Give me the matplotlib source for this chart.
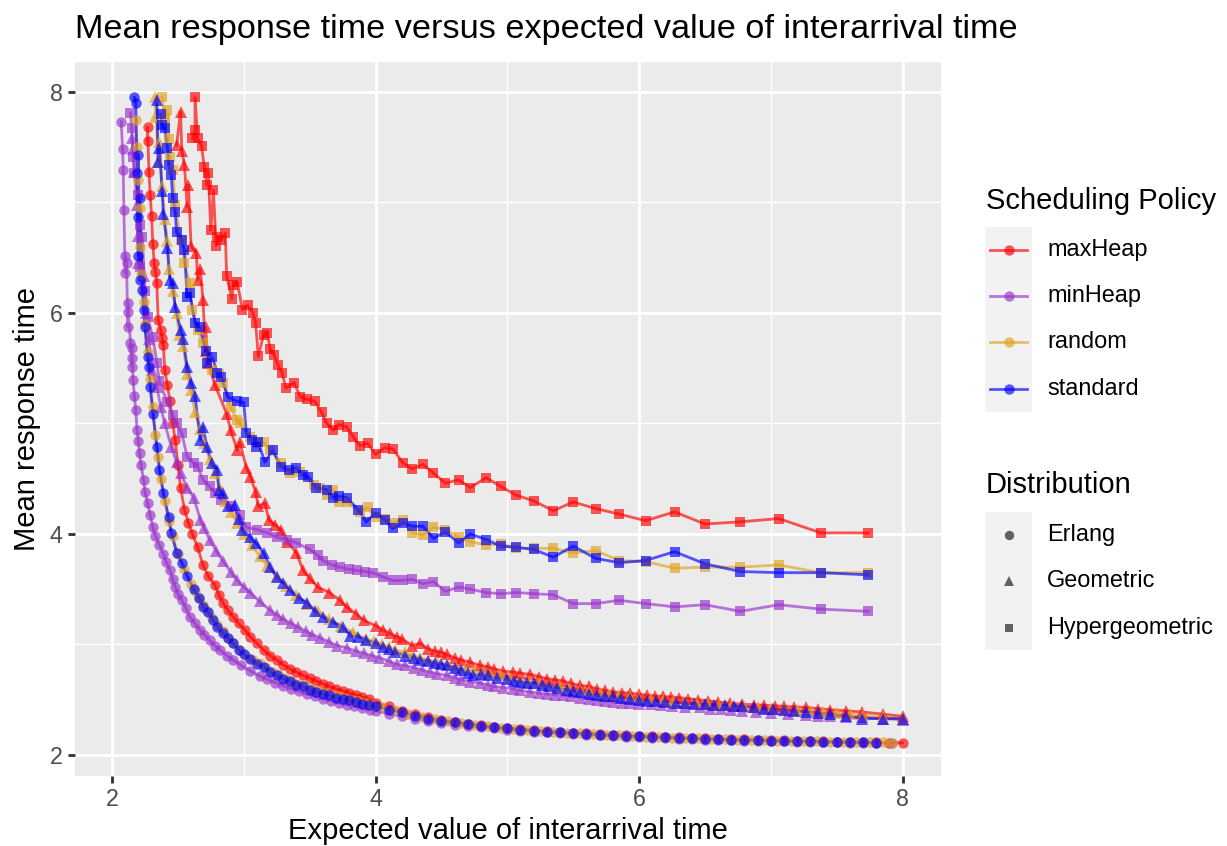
import matplotlib
matplotlib.use("Agg")
import matplotlib.pyplot as plt
from matplotlib.lines import Line2D
from matplotlib.patches import Rectangle

# ---------------- data ----------------
policies = ["maxHeap", "minHeap", "random", "standard"]
distributions = ["Erlang", "Geometric", "Hypergeometric"]

maxheap_erlang = [
    (2.27, 7.68), (2.27, 7.56), (2.28, 7.28), (2.29, 7.07), (2.30, 6.88), (2.31, 6.62),
    (2.32, 6.45), (2.33, 6.37), (2.34, 6.27), (2.35, 5.94), (2.37, 5.85), (2.38, 5.77),
    (2.39, 5.71), (2.40, 5.48), (2.42, 5.35), (2.44, 5.20), (2.46, 5.00), (2.48, 4.85),
    (2.50, 4.62), (2.52, 4.42), (2.55, 4.22), (2.58, 4.10), (2.61, 4.00), (2.65, 3.88),
    (2.69, 3.72), (2.73, 3.62), (2.78, 3.54), (2.81, 3.45), (2.84, 3.38), (2.88, 3.31),
    (2.92, 3.25), (2.96, 3.19), (3.01, 3.13), (3.05, 3.07), (3.10, 3.01), (3.15, 2.95),
    (3.20, 2.90), (3.25, 2.86), (3.30, 2.815), (3.35, 2.78), (3.40, 2.75), (3.45, 2.72),
    (3.50, 2.695), (3.55, 2.67), (3.60, 2.645), (3.65, 2.62), (3.70, 2.60), (3.75, 2.58),
    (3.80, 2.56), (3.85, 2.545), (3.90, 2.525), (3.95, 2.505), (4.00, 2.475), (4.10, 2.44),
    (4.20, 2.40), (4.30, 2.37), (4.40, 2.345), (4.50, 2.32), (4.60, 2.30), (4.70, 2.285),
    (4.80, 2.27), (4.90, 2.255), (5.00, 2.245), (5.10, 2.235), (5.20, 2.225), (5.30, 2.218),
    (5.40, 2.21), (5.50, 2.203), (5.60, 2.197), (5.70, 2.19), (5.80, 2.185), (5.90, 2.18),
    (6.00, 2.175), (6.10, 2.17), (6.20, 2.165), (6.30, 2.16), (6.40, 2.155), (6.50, 2.151),
    (6.60, 2.147), (6.70, 2.144), (6.80, 2.141), (6.90, 2.138), (7.00, 2.135), (7.10, 2.132),
    (7.20, 2.129), (7.30, 2.126), (7.40, 2.123), (7.50, 2.12), (7.60, 2.118), (7.70, 2.116),
    (7.80, 2.114), (7.90, 2.112), (8.00, 2.11),
]
minheap_erlang = [
    (2.07, 7.73), (2.08, 7.48), (2.085, 7.29), (2.09, 6.93), (2.10, 6.52), (2.11, 6.45),
    (2.10, 6.36), (2.12, 6.09), (2.12, 6.01), (2.12, 5.87), (2.14, 5.73), (2.15, 5.68),
    (2.15, 5.59), (2.15, 5.51), (2.16, 5.39), (2.17, 5.25), (2.18, 5.12), (2.19, 4.94),
    (2.20, 4.84), (2.21, 4.73), (2.22, 4.62), (2.24, 4.49), (2.25, 4.38), (2.27, 4.28),
    (2.29, 4.17), (2.31, 4.06), (2.33, 3.98), (2.36, 3.90), (2.39, 3.82), (2.41, 3.75),
    (2.44, 3.67), (2.46, 3.59), (2.48, 3.52), (2.50, 3.46), (2.53, 3.40), (2.56, 3.33),
    (2.59, 3.25), (2.63, 3.19), (2.67, 3.13), (2.70, 3.09), (2.74, 3.04), (2.78, 2.99),
    (2.82, 2.95), (2.87, 2.90), (2.92, 2.86), (2.98, 2.81), (3.05, 2.76), (3.12, 2.715),
    (3.18, 2.685), (3.24, 2.655), (3.30, 2.625), (3.36, 2.60), (3.42, 2.575), (3.48, 2.55),
    (3.54, 2.53), (3.60, 2.51), (3.66, 2.49), (3.72, 2.47), (3.78, 2.455), (3.84, 2.44),
    (3.90, 2.425), (3.96, 2.41), (4.00, 2.40), (4.10, 2.375), (4.20, 2.35), (4.30, 2.33),
    (4.40, 2.31), (4.50, 2.29), (4.60, 2.275), (4.70, 2.26), (4.80, 2.25), (4.90, 2.24),
    (5.00, 2.23), (5.10, 2.22), (5.20, 2.21), (5.30, 2.205), (5.40, 2.197), (5.50, 2.19),
    (5.60, 2.183), (5.70, 2.177), (5.80, 2.171), (5.90, 2.165), (6.00, 2.16), (6.10, 2.156),
    (6.20, 2.152), (6.30, 2.148), (6.40, 2.144), (6.50, 2.14), (6.60, 2.137), (6.70, 2.134),
    (6.80, 2.131), (6.90, 2.128), (7.00, 2.125), (7.10, 2.123), (7.20, 2.121), (7.30, 2.119),
    (7.40, 2.117), (7.50, 2.115), (7.60, 2.113), (7.70, 2.111), (7.80, 2.109), (7.92, 2.107),
]
random_erlang = [
    (2.18, 7.75), (2.19, 7.50), (2.20, 7.20), (2.21, 6.95), (2.21, 6.60), (2.22, 6.35),
    (2.24, 6.10), (2.25, 5.90), (2.27, 5.65), (2.29, 5.40), (2.31, 5.15), (2.33, 4.90),
    (2.35, 4.70), (2.37, 4.50), (2.40, 4.30), (2.43, 4.12), (2.46, 3.98), (2.50, 3.82),
    (2.55, 3.68), (2.60, 3.55), (2.63, 3.48), (2.66, 3.42), (2.69, 3.36), (2.72, 3.30),
    (2.76, 3.24), (2.80, 3.18), (2.84, 3.12), (2.88, 3.06), (2.92, 3.01), (2.97, 2.95),
    (3.02, 2.90), (3.07, 2.86), (3.12, 2.83), (3.17, 2.79), (3.22, 2.75), (3.27, 2.72),
    (3.32, 2.69), (3.37, 2.665), (3.42, 2.64), (3.47, 2.62), (3.52, 2.60), (3.57, 2.58),
    (3.62, 2.56), (3.67, 2.545), (3.72, 2.53), (3.77, 2.515), (3.82, 2.50), (3.87, 2.485),
    (3.92, 2.47), (3.97, 2.455), (4.05, 2.435), (4.15, 2.405), (4.25, 2.375), (4.35, 2.345),
    (4.45, 2.325), (4.55, 2.305), (4.65, 2.29), (4.75, 2.275), (4.85, 2.26), (4.95, 2.248),
    (5.05, 2.237), (5.15, 2.227), (5.25, 2.218), (5.35, 2.21), (5.45, 2.203), (5.55, 2.196),
    (5.65, 2.19), (5.75, 2.184), (5.85, 2.178), (5.95, 2.172), (6.05, 2.167), (6.15, 2.162),
    (6.25, 2.158), (6.35, 2.154), (6.45, 2.15), (6.55, 2.146), (6.65, 2.143), (6.75, 2.14),
    (6.85, 2.137), (6.95, 2.134), (7.05, 2.131), (7.15, 2.128), (7.25, 2.126), (7.35, 2.124),
    (7.45, 2.122), (7.55, 2.12), (7.65, 2.118), (7.75, 2.116), (7.85, 2.114), (7.92, 2.113),
]
standard_erlang = [
    (2.17, 7.95), (2.18, 7.90), (2.20, 7.43), (2.19, 7.27), (2.21, 7.04), (2.20, 6.87),
    (2.20, 6.52), (2.21, 6.30), (2.23, 6.21), (2.24, 6.03), (2.25, 5.87), (2.27, 5.60),
    (2.28, 5.51), (2.29, 5.33), (2.31, 5.09), (2.34, 4.79), (2.36, 4.58), (2.39, 4.37),
    (2.43, 4.15), (2.45, 4.01), (2.49, 3.83), (2.53, 3.74), (2.57, 3.62), (2.62, 3.50),
    (2.66, 3.42), (2.69, 3.34), (2.73, 3.29), (2.77, 3.22), (2.80, 3.16), (2.84, 3.10),
    (2.88, 3.06), (2.92, 3.01), (2.96, 2.95), (3.00, 2.91), (3.05, 2.87), (3.10, 2.82),
    (3.15, 2.80), (3.20, 2.75), (3.25, 2.72), (3.30, 2.69), (3.35, 2.67), (3.40, 2.63),
    (3.45, 2.62), (3.50, 2.59), (3.55, 2.57), (3.60, 2.555), (3.65, 2.54), (3.70, 2.52),
    (3.75, 2.51), (3.80, 2.495), (3.85, 2.48), (3.90, 2.465), (3.95, 2.455), (4.00, 2.44),
    (4.10, 2.41), (4.20, 2.385), (4.30, 2.355), (4.40, 2.33), (4.50, 2.31), (4.60, 2.295),
    (4.70, 2.28), (4.80, 2.265), (4.90, 2.25), (5.00, 2.24), (5.10, 2.23), (5.20, 2.22),
    (5.30, 2.212), (5.40, 2.205), (5.50, 2.198), (5.60, 2.19), (5.70, 2.184), (5.80, 2.178),
    (5.90, 2.173), (6.00, 2.168), (6.10, 2.163), (6.20, 2.159), (6.30, 2.155), (6.40, 2.151),
    (6.50, 2.147), (6.60, 2.144), (6.70, 2.14), (6.80, 2.137), (6.90, 2.134), (7.00, 2.131),
    (7.10, 2.128), (7.20, 2.125), (7.30, 2.123), (7.40, 2.121), (7.50, 2.119), (7.60, 2.117),
    (7.70, 2.115), (7.80, 2.113),
]

maxheap_geometric = [
    (2.52, 7.82), (2.49, 7.52), (2.53, 7.47), (2.55, 7.34), (2.58, 7.16), (2.57, 6.96),
    (2.60, 6.61), (2.64, 6.54), (2.67, 6.40), (2.65, 6.30), (2.69, 6.12), (2.71, 5.87),
    (2.71, 5.66), (2.73, 5.55), (2.78, 5.35), (2.87, 5.09), (2.90, 4.94), (2.97, 4.83),
    (2.95, 4.76), (3.02, 4.60), (3.05, 4.52), (3.09, 4.38), (3.11, 4.25), (3.16, 4.28),
    (3.19, 4.13), (3.24, 4.08), (3.28, 4.04), (3.33, 3.93), (3.40, 3.83), (3.45, 3.67),
    (3.50, 3.60), (3.56, 3.52), (3.65, 3.47), (3.73, 3.40), (3.78, 3.34), (3.85, 3.28),
    (3.91, 3.22), (4.00, 3.17), (4.06, 3.13), (4.11, 3.10), (4.16, 3.07), (4.20, 3.05),
    (4.28, 2.99), (4.34, 3.01), (4.40, 2.96), (4.45, 2.94), (4.50, 2.93), (4.54, 2.91),
    (4.60, 2.88), (4.65, 2.86), (4.72, 2.84), (4.79, 2.81), (4.85, 2.80), (4.90, 2.78),
    (4.97, 2.76), (5.04, 2.75), (5.10, 2.74), (5.17, 2.73), (5.24, 2.71), (5.30, 2.69),
    (5.36, 2.68), (5.42, 2.67), (5.48, 2.65), (5.55, 2.63), (5.62, 2.62), (5.68, 2.60),
    (5.74, 2.585), (5.80, 2.57), (5.87, 2.565), (5.93, 2.56), (6.00, 2.55), (6.06, 2.54),
    (6.12, 2.535), (6.18, 2.53), (6.24, 2.525), (6.30, 2.52), (6.37, 2.51), (6.45, 2.50),
    (6.52, 2.49), (6.60, 2.48), (6.69, 2.47), (6.78, 2.46), (6.87, 2.455), (6.95, 2.45),
    (7.03, 2.445), (7.10, 2.44), (7.18, 2.435), (7.27, 2.43), (7.36, 2.42), (7.45, 2.41),
    (7.57, 2.40), (7.69, 2.39), (7.85, 2.37), (8.00, 2.35),
]
minheap_geometric = [
    (2.15, 7.58), (2.16, 7.48), (2.17, 7.28), (2.19, 6.98), (2.20, 6.70), (2.20, 6.45),
    (2.24, 6.33), (2.26, 6.00), (2.28, 5.76), (2.30, 5.48), (2.34, 5.33), (2.37, 5.15),
    (2.40, 5.00), (2.45, 4.79), (2.49, 4.65), (2.52, 4.55), (2.57, 4.42), (2.62, 4.33),
    (2.67, 4.13), (2.70, 4.05), (2.74, 3.95), (2.79, 3.85), (2.84, 3.76), (2.90, 3.66),
    (2.95, 3.58), (3.00, 3.52), (3.05, 3.47), (3.12, 3.39), (3.20, 3.31), (3.25, 3.27),
    (3.30, 3.23), (3.36, 3.19), (3.41, 3.16), (3.47, 3.12), (3.52, 3.09), (3.58, 3.06),
    (3.65, 3.02), (3.71, 2.99), (3.78, 2.97), (3.85, 2.94), (3.91, 2.92), (3.97, 2.90),
    (4.03, 2.88), (4.10, 2.85), (4.16, 2.82), (4.22, 2.81), (4.29, 2.79), (4.35, 2.77),
    (4.41, 2.75), (4.47, 2.735), (4.54, 2.72), (4.60, 2.70), (4.65, 2.68), (4.72, 2.665),
    (4.79, 2.65), (4.85, 2.635), (4.90, 2.62), (4.97, 2.61), (5.04, 2.60), (5.10, 2.585),
    (5.17, 2.57), (5.24, 2.56), (5.30, 2.55), (5.36, 2.545), (5.42, 2.54), (5.48, 2.53),
    (5.55, 2.52), (5.62, 2.51), (5.68, 2.50), (5.74, 2.49), (5.80, 2.48), (5.87, 2.475),
    (5.93, 2.47), (6.00, 2.465), (6.09, 2.46), (6.17, 2.45), (6.25, 2.445), (6.35, 2.435),
    (6.46, 2.43), (6.54, 2.42), (6.62, 2.415), (6.70, 2.41), (6.78, 2.40), (6.89, 2.39),
    (7.00, 2.38), (7.13, 2.37), (7.27, 2.36), (7.36, 2.355), (7.45, 2.35), (7.57, 2.345),
    (7.69, 2.34), (7.85, 2.33), (8.00, 2.32),
]
random_geometric = [
    (2.33, 7.95), (2.33, 7.77), (2.35, 7.37), (2.36, 7.55), (2.38, 7.15), (2.40, 6.85),
    (2.42, 6.65), (2.43, 6.40), (2.46, 6.20), (2.49, 6.00), (2.51, 5.80), (2.54, 5.70),
    (2.57, 5.45), (2.60, 5.30), (2.63, 5.10), (2.67, 4.95), (2.70, 4.82), (2.74, 4.68),
    (2.78, 4.55), (2.82, 4.42), (2.86, 4.30), (2.90, 4.20), (2.95, 4.10), (3.00, 4.00),
    (3.06, 3.90), (3.12, 3.80), (3.18, 3.71), (3.25, 3.62), (3.32, 3.53), (3.40, 3.45),
    (3.48, 3.37), (3.56, 3.30), (3.65, 3.23), (3.74, 3.17), (3.83, 3.11), (3.93, 3.05),
    (3.99, 3.03), (4.05, 3.00), (4.10, 2.98), (4.15, 2.95), (4.22, 2.93), (4.28, 2.90),
    (4.34, 2.88), (4.40, 2.86), (4.47, 2.84), (4.54, 2.82), (4.61, 2.80), (4.68, 2.78),
    (4.75, 2.765), (4.82, 2.75), (4.88, 2.735), (4.95, 2.72), (5.02, 2.70), (5.10, 2.68),
    (5.17, 2.665), (5.25, 2.65), (5.32, 2.635), (5.40, 2.62), (5.47, 2.605), (5.55, 2.59),
    (5.62, 2.575), (5.70, 2.56), (5.77, 2.55), (5.85, 2.54), (5.93, 2.53), (6.00, 2.52),
    (6.09, 2.51), (6.18, 2.50), (6.26, 2.49), (6.35, 2.48), (6.44, 2.47), (6.52, 2.465),
    (6.61, 2.455), (6.70, 2.45), (6.80, 2.44), (6.90, 2.43), (7.00, 2.425), (7.10, 2.42),
    (7.20, 2.41), (7.30, 2.40), (7.40, 2.39), (7.50, 2.38), (7.60, 2.37), (7.70, 2.36),
    (7.85, 2.35), (8.00, 2.33),
]
standard_geometric = [
    (2.34, 7.93), (2.36, 7.49), (2.35, 7.37), (2.38, 7.10), (2.39, 6.90), (2.42, 6.59),
    (2.44, 6.30), (2.46, 6.27), (2.48, 6.05), (2.52, 5.85), (2.54, 5.76), (2.57, 5.51),
    (2.60, 5.37), (2.63, 5.25), (2.67, 4.85), (2.69, 4.97), (2.72, 4.79), (2.76, 4.64),
    (2.80, 4.58), (2.81, 4.40), (2.84, 4.37), (2.88, 4.25), (2.93, 4.26), (2.96, 4.14),
    (2.99, 4.04), (3.05, 3.97), (3.09, 3.92), (3.15, 3.83), (3.20, 3.70), (3.25, 3.61),
    (3.30, 3.56), (3.35, 3.49), (3.42, 3.42), (3.48, 3.38), (3.54, 3.30), (3.60, 3.25),
    (3.68, 3.20), (3.75, 3.16), (3.81, 3.08), (3.87, 3.07), (3.93, 3.04), (4.00, 3.01),
    (4.06, 2.98), (4.10, 2.96), (4.15, 2.93), (4.22, 2.90), (4.29, 2.88), (4.34, 2.86),
    (4.40, 2.85), (4.45, 2.83), (4.50, 2.82), (4.54, 2.81), (4.60, 2.79), (4.65, 2.77),
    (4.70, 2.74), (4.74, 2.72), (4.80, 2.73), (4.85, 2.72), (4.92, 2.70), (5.00, 2.69),
    (5.05, 2.67), (5.10, 2.66), (5.15, 2.655), (5.20, 2.65), (5.26, 2.635), (5.32, 2.62),
    (5.38, 2.605), (5.45, 2.59), (5.50, 2.58), (5.55, 2.57), (5.62, 2.555), (5.68, 2.54),
    (5.74, 2.535), (5.80, 2.53), (5.86, 2.52), (5.93, 2.51), (6.00, 2.50), (6.06, 2.49),
    (6.13, 2.485), (6.20, 2.48), (6.28, 2.475), (6.35, 2.47), (6.42, 2.465), (6.50, 2.46),
    (6.57, 2.455), (6.65, 2.45), (6.72, 2.445), (6.78, 2.44), (6.87, 2.43), (6.95, 2.42),
    (7.02, 2.415), (7.10, 2.41), (7.18, 2.40), (7.27, 2.39), (7.36, 2.38), (7.45, 2.37),
    (7.57, 2.35), (7.69, 2.33), (7.85, 2.33), (8.00, 2.33),
]

maxheap_hyper = [
    (2.63, 7.95), (2.61, 7.58), (2.63, 7.66), (2.65, 7.58), (2.68, 7.51), (2.70, 7.32),
    (2.72, 7.16), (2.73, 7.27), (2.75, 6.75), (2.77, 7.11), (2.79, 6.61), (2.80, 6.69),
    (2.83, 6.66), (2.86, 6.72), (2.87, 6.33), (2.91, 6.13), (2.92, 6.25), (2.95, 6.28),
    (2.99, 6.03), (3.03, 6.07), (3.07, 6.00), (3.09, 5.91), (3.11, 5.61), (3.15, 5.80),
    (3.18, 5.82), (3.20, 5.67), (3.23, 5.62), (3.26, 5.53), (3.29, 5.46), (3.32, 5.32),
    (3.38, 5.37), (3.43, 5.24), (3.48, 5.22), (3.54, 5.20), (3.59, 5.10), (3.63, 5.00),
    (3.68, 4.94), (3.72, 4.99), (3.78, 4.97), (3.83, 4.88), (3.88, 4.80), (3.94, 4.82),
    (4.00, 4.72), (4.07, 4.78), (4.13, 4.77), (4.21, 4.64), (4.28, 4.59), (4.36, 4.63),
    (4.44, 4.55), (4.53, 4.46), (4.63, 4.49), (4.72, 4.42), (4.84, 4.51), (4.95, 4.43),
    (5.07, 4.35), (5.20, 4.30), (5.35, 4.21), (5.50, 4.29), (5.67, 4.23), (5.85, 4.18),
    (6.05, 4.12), (6.27, 4.20), (6.50, 4.09), (6.77, 4.11), (7.06, 4.14), (7.38, 4.01),
    (7.74, 4.01),
]
minheap_hyper = [
    (2.14, 7.81), (2.15, 7.67), (2.16, 7.41), (2.17, 7.27), (2.20, 7.07), (2.21, 6.80),
    (2.23, 6.69), (2.21, 6.42), (2.25, 6.20), (2.27, 5.96), (2.31, 5.78), (2.34, 5.55),
    (2.36, 5.38), (2.42, 5.19), (2.46, 5.08), (2.49, 5.00), (2.53, 4.91), (2.57, 4.70),
    (2.62, 4.64), (2.65, 4.61), (2.69, 4.49), (2.74, 4.43), (2.78, 4.37), (2.83, 4.31),
    (2.90, 4.25), (2.97, 4.17), (3.02, 4.06), (3.10, 4.04), (3.18, 4.01), (3.25, 3.97),
    (3.33, 3.95), (3.40, 3.92), (3.50, 3.86), (3.56, 3.81), (3.60, 3.76), (3.67, 3.72),
    (3.73, 3.70), (3.80, 3.68), (3.86, 3.67), (3.92, 3.66), (3.98, 3.65), (4.06, 3.61),
    (4.13, 3.58), (4.21, 3.58), (4.28, 3.59), (4.36, 3.55), (4.44, 3.57), (4.53, 3.48),
    (4.63, 3.52), (4.72, 3.50), (4.84, 3.47), (4.95, 3.46), (5.07, 3.47), (5.20, 3.46),
    (5.35, 3.45), (5.50, 3.37), (5.67, 3.37), (5.85, 3.40), (6.05, 3.37), (6.27, 3.34),
    (6.50, 3.36), (6.77, 3.30), (7.06, 3.36), (7.38, 3.32), (7.74, 3.30),
]
random_hyper = [
    (2.38, 7.95), (2.40, 7.76), (2.42, 7.84), (2.43, 7.57), (2.44, 7.41), (2.46, 7.29),
    (2.48, 6.98), (2.52, 6.66), (2.55, 6.45), (2.59, 6.27), (2.61, 6.03), (2.65, 5.85),
    (2.69, 5.73), (2.73, 5.60), (2.76, 5.48), (2.81, 5.45), (2.84, 5.37), (2.90, 5.15),
    (2.95, 5.03), (2.97, 5.00), (3.05, 4.88), (3.10, 4.82), (3.15, 4.83), (3.20, 4.76),
    (3.28, 4.64), (3.35, 4.55), (3.43, 4.56), (3.53, 4.44), (3.58, 4.42), (3.63, 4.35),
    (3.68, 4.40), (3.72, 4.29), (3.78, 4.29), (3.88, 4.20), (3.94, 4.24), (4.00, 4.15),
    (4.07, 4.14), (4.13, 4.10), (4.21, 4.13), (4.28, 4.01), (4.36, 3.99), (4.44, 4.06),
    (4.53, 4.04), (4.63, 3.97), (4.72, 3.93), (4.84, 3.90), (4.95, 3.91), (5.07, 3.87),
    (5.20, 3.87), (5.35, 3.87), (5.50, 3.83), (5.67, 3.85), (5.85, 3.76), (6.05, 3.75),
    (6.27, 3.69), (6.50, 3.70), (6.77, 3.70), (7.06, 3.72), (7.38, 3.65), (7.74, 3.65),
]
standard_hyper = [
    (2.37, 7.80), (2.38, 7.70), (2.40, 7.67), (2.42, 7.49), (2.43, 7.34), (2.45, 7.25),
    (2.46, 7.04), (2.48, 6.91), (2.49, 6.73), (2.53, 6.66), (2.55, 6.57), (2.57, 6.14),
    (2.59, 6.18), (2.63, 5.91), (2.67, 5.87), (2.71, 5.66), (2.72, 5.55), (2.76, 5.60),
    (2.80, 5.46), (2.83, 5.42), (2.88, 5.24), (2.95, 5.20), (3.00, 5.19), (3.02, 4.91),
    (3.06, 4.85), (3.09, 4.79), (3.11, 4.83), (3.16, 4.65), (3.22, 4.76), (3.28, 4.61),
    (3.34, 4.58), (3.40, 4.60), (3.45, 4.53), (3.49, 4.52), (3.55, 4.42), (3.63, 4.40),
    (3.68, 4.33), (3.72, 4.34), (3.78, 4.33), (3.87, 4.22), (3.93, 4.11), (4.00, 4.19),
    (4.07, 4.13), (4.13, 4.05), (4.21, 4.10), (4.28, 4.07), (4.36, 4.07), (4.44, 3.96),
    (4.53, 4.02), (4.63, 3.92), (4.72, 4.00), (4.84, 3.95), (4.95, 3.89), (5.07, 3.88),
    (5.20, 3.86), (5.35, 3.79), (5.50, 3.89), (5.67, 3.78), (5.85, 3.74), (6.05, 3.76),
    (6.27, 3.84), (6.50, 3.73), (6.77, 3.66), (7.06, 3.65), (7.38, 3.65), (7.74, 3.63),
]

series = {
    ("maxHeap", "Erlang"): maxheap_erlang,
    ("maxHeap", "Geometric"): maxheap_geometric,
    ("maxHeap", "Hypergeometric"): maxheap_hyper,
    ("minHeap", "Erlang"): minheap_erlang,
    ("minHeap", "Geometric"): minheap_geometric,
    ("minHeap", "Hypergeometric"): minheap_hyper,
    ("random", "Erlang"): random_erlang,
    ("random", "Geometric"): random_geometric,
    ("random", "Hypergeometric"): random_hyper,
    ("standard", "Erlang"): standard_erlang,
    ("standard", "Geometric"): standard_geometric,
    ("standard", "Hypergeometric"): standard_hyper,
}

title = "Mean response time versus expected value of interarrival time"
x_label = "Expected value of interarrival time"
y_label = "Mean response time"
ticks = [2, 4, 6, 8]
tick_labels = ["2", "4", "6", "8"]

# ---------------- style ----------------
policy_colors = {"maxHeap": "#FF0000", "minHeap": "#9932CC",
                 "random": "#E0A21E", "standard": "#0000FF"}
dist_markers = {"Erlang": "o", "Geometric": "^", "Hypergeometric": "s"}
marker_sizes = {"Erlang": 5.0, "Geometric": 5.6, "Hypergeometric": 4.6}
ALPHA = 0.65
LW = 1.35

plt.rcParams['font.family'] = ['Liberation Sans', 'DejaVu Sans']

W, H, DPI = 1227, 846, 150
fig = plt.figure(figsize=(W / DPI, H / DPI), dpi=DPI)
fig.patch.set_facecolor("white")


def fx(px):
    return px / W


def fy(py):
    return 1 - py / H


P_L, P_R, P_T, P_B = 75, 941, 62, 776
ax = fig.add_axes([fx(P_L), fy(P_B), (P_R - P_L) / W, (P_B - P_T) / H])
ax.set_facecolor("#EBEBEB")
for s in ax.spines.values():
    s.set_visible(False)
ax.set_xlim(1.719, 8.292)
ax.set_ylim(1.81, 8.271)
ax.set_xticks(ticks)
ax.set_xticklabels(tick_labels)
ax.set_yticks(ticks)
ax.set_yticklabels(tick_labels)
ax.set_xticks([3, 5, 7], minor=True)
ax.set_yticks([3, 5, 7], minor=True)
ax.grid(which="major", color="white", linewidth=1.36)
ax.grid(which="minor", color="white", linewidth=0.68)
ax.tick_params(which="minor", length=0)
ax.tick_params(which="major", length=3.5, width=1.36, color="#333333",
               labelsize=11.2, labelcolor="#4D4D4D", pad=2.5)
ax.set_axisbelow(True)

# lines first (geom_line), then points (geom_point)
for pol in policies:
    for dist in distributions:
        pts = sorted(series[(pol, dist)])
        xs = [p[0] for p in pts]
        ys = [p[1] for p in pts]
        ax.plot(xs, ys, color=policy_colors[pol], alpha=ALPHA, lw=LW,
                solid_joinstyle="round", zorder=2)
for pol in policies:
    for dist in distributions:
        pts = sorted(series[(pol, dist)])
        xs = [p[0] for p in pts]
        ys = [p[1] for p in pts]
        ax.plot(xs, ys, linestyle="none", marker=dist_markers[dist],
                markersize=marker_sizes[dist], markeredgewidth=0,
                color=policy_colors[pol], alpha=ALPHA, zorder=3)

# ---------------- text ----------------
fig.text(fx(75), fy(38), title, fontsize=16.45, va="baseline", ha="left", color="black")
fig.text(fx((P_L + P_R) / 2), fy(831), x_label, fontsize=14, ha="center", va="center")
fig.text(fx(27), fy((P_T + P_B) / 2), y_label, fontsize=14, ha="center", va="center",
         rotation=90)

# ---------------- legends (drawn like ggplot guides) ----------------
KEY_L, KEY_R = 985, 1032
KEY_CX = (KEY_L + KEY_R) / 2
LABEL_X = 1047

fig.text(fx(986), fy(201), "Scheduling Policy", fontsize=14, ha="left", va="center")
fig.patches.append(Rectangle((fx(KEY_L), fy(412)), (KEY_R - KEY_L) / W, (412 - 227) / H,
                             transform=fig.transFigure, facecolor="#F2F2F2",
                             edgecolor="none", zorder=1))
pol_key_y = [250, 296, 342, 389]
for pol, ky in zip(policies, pol_key_y):
    fig.lines.append(Line2D([fx(KEY_L + 5), fx(KEY_R - 5)], [fy(ky), fy(ky)],
                            transform=fig.transFigure, color=policy_colors[pol],
                            alpha=ALPHA, lw=LW, zorder=2))
    fig.lines.append(Line2D([fx(KEY_CX)], [fy(ky)], transform=fig.transFigure,
                            linestyle="none", marker="o", markersize=5.0,
                            markeredgewidth=0, color=policy_colors[pol],
                            alpha=ALPHA, zorder=3))
    fig.text(fx(LABEL_X), fy(ky), pol, fontsize=11.3, ha="left", va="center")

fig.text(fx(986), fy(485), "Distribution", fontsize=14, ha="left", va="center")
fig.patches.append(Rectangle((fx(KEY_L), fy(650)), (KEY_R - KEY_L) / W, (650 - 512) / H,
                             transform=fig.transFigure, facecolor="#F2F2F2",
                             edgecolor="none", zorder=1))
dist_key_y = [535, 581, 628]
for dist, ky in zip(distributions, dist_key_y):
    fig.lines.append(Line2D([fx(KEY_CX)], [fy(ky)], transform=fig.transFigure,
                            linestyle="none", marker=dist_markers[dist],
                            markersize=marker_sizes[dist] * 0.9, markeredgewidth=0,
                            color="black", alpha=0.6, zorder=3))
    fig.text(fx(LABEL_X), fy(ky), dist, fontsize=11.3, ha="left", va="center")

fig.savefig("out.png", dpi=DPI)
